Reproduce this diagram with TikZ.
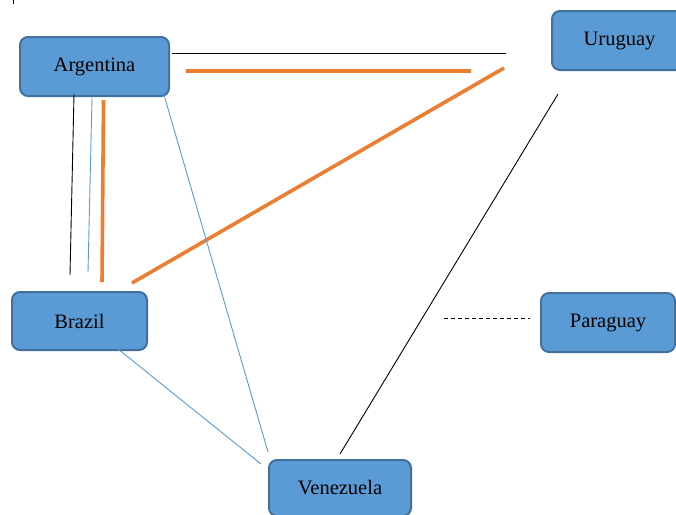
\documentclass[tikz,border=0pt]{standalone}
\usepackage{fontspec}
\setmainfont{Liberation Serif}
\definecolor{boxfill}{HTML}{5B9BD5}
\definecolor{boxedge}{HTML}{41719C}
\definecolor{lineorange}{HTML}{ED7D31}
\definecolor{lineblue}{HTML}{5B9BD5}
\begin{document}
\begin{tikzpicture}[x=1pt,y=-1pt,
  country/.style={draw=boxedge, line width=2pt, fill=boxfill, rounded corners=8pt,
    font=\fontsize{20.5}{24}\selectfont, text=black, inner sep=0pt},
  blackline/.style={draw=black, line width=0.9pt},
  blueline/.style={draw=lineblue, line width=0.9pt},
  orangeline/.style={draw=lineorange, line width=3.6pt},
  dashline/.style={draw=black, line width=0.9pt, dash pattern=on 4pt off 3pt}]
\useasboundingbox (0,0) rectangle (676,514);
\clip (0,0) rectangle (676,514);
\fill[white] (0,0) rectangle (676,514);
% small mark top-left
\coordinate (m1) at (13,0);
\coordinate (m2) at (13,4);
\draw[blackline] (m1) -- (m2);
% nodes
\node[country, minimum width=149pt, minimum height=59pt] (arg) at (94.5,66.5) {Argentina};
\node[country, minimum width=135pt, minimum height=59pt] (uru) at (619.5,40.5) {Uruguay};
\node[country, minimum width=135pt, minimum height=58pt] (bra) at (79.5,321) {Brazil};
\node[country, minimum width=134pt, minimum height=59pt] (par) at (608,322.5) {Paraguay};
\node[country, minimum width=142pt, minimum height=56pt] (ven) at (340,488) {Venezuela};
% connector endpoints
\coordinate (a1) at (172,53);   \coordinate (u1) at (506,53);
\coordinate (a2) at (186,71);   \coordinate (u2) at (471,71);
\coordinate (u3) at (504,68);   \coordinate (b3) at (132,283);
\coordinate (a4) at (74,94);    \coordinate (b4) at (70,275);
\coordinate (a5) at (92,98);    \coordinate (b5) at (88,272);
\coordinate (a6) at (103.5,100);\coordinate (b6) at (102,282);
\coordinate (a7) at (164,95);   \coordinate (v7) at (268,452);
\coordinate (b8) at (118,349);  \coordinate (v8) at (261,464);
\coordinate (u9) at (558,94);   \coordinate (v9) at (340,454);
\coordinate (p10) at (530,318.5); \coordinate (d10) at (444,318.5);
% connectors
\draw[blackline] (a1) -- (u1);
\draw[orangeline] (a2) -- (u2);
\draw[orangeline] (u3) -- (b3);
\draw[blackline] (a4) -- (b4);
\draw[blueline] (a5) -- (b5);
\draw[orangeline] (a6) -- (b6);
\draw[blueline] (a7) -- (v7);
\draw[blueline] (b8) -- (v8);
\draw[blackline] (u9) -- (v9);
\draw[dashline] (d10) -- (p10);
\end{tikzpicture}
\end{document}
